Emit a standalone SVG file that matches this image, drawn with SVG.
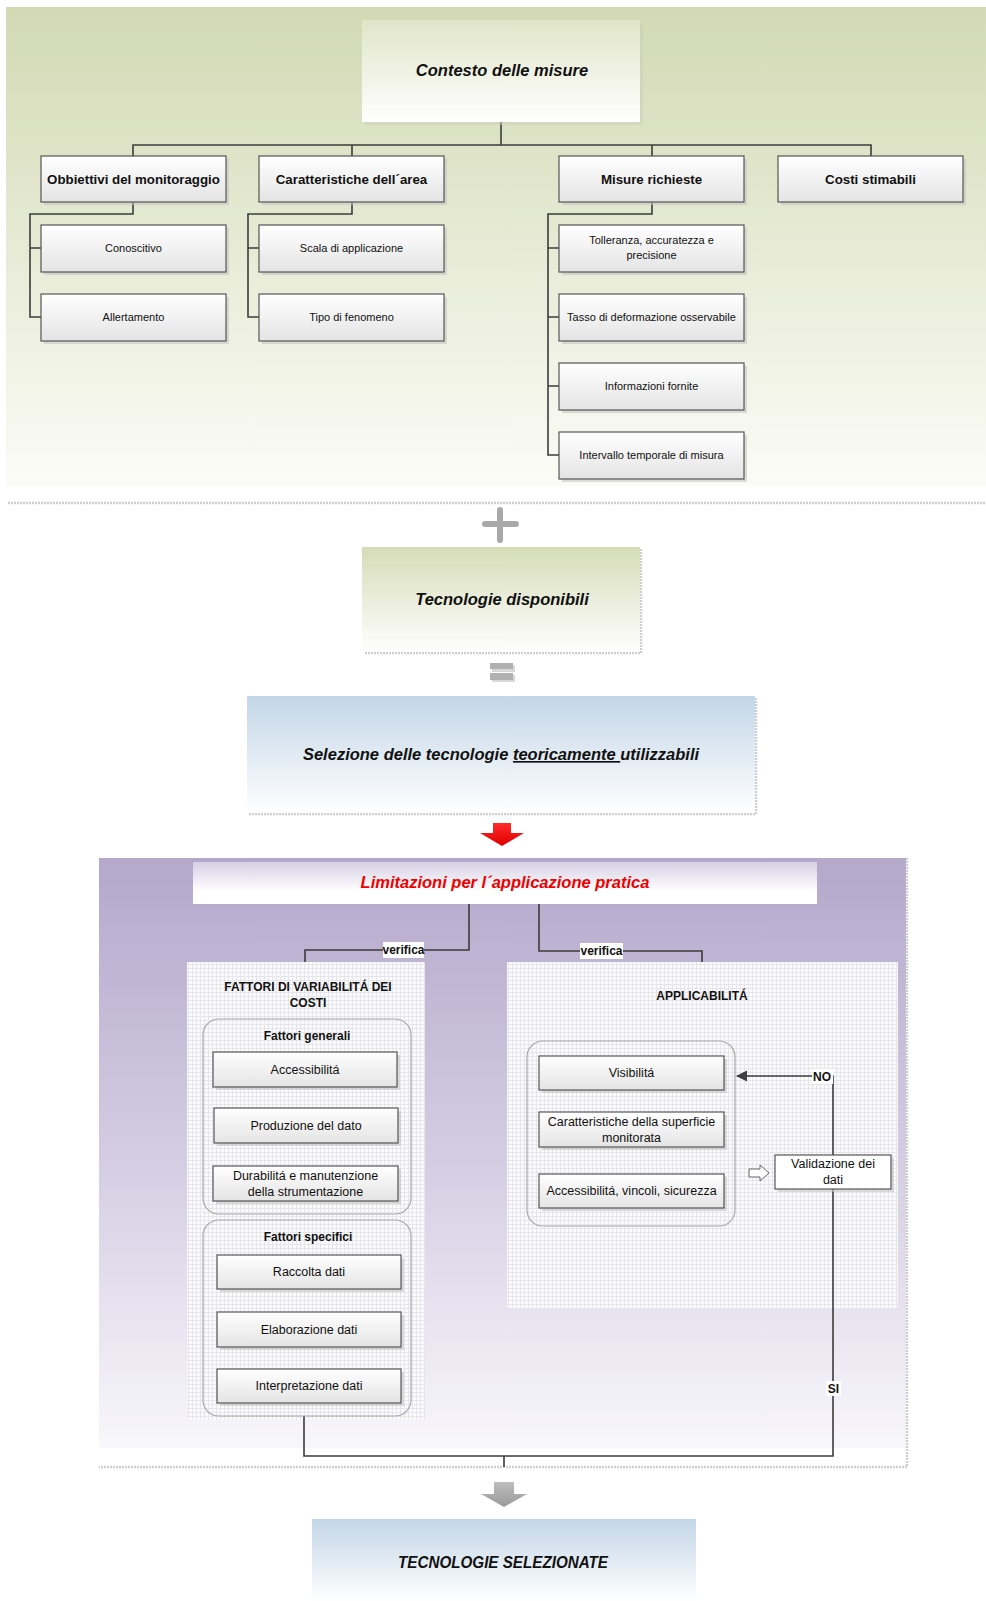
<svg xmlns="http://www.w3.org/2000/svg" width="986" height="1601" viewBox="0 0 986 1601">
<defs>
<linearGradient id="gGreen" x1="0" y1="0" x2="0" y2="1"><stop offset="0" stop-color="#d2d9b3"/><stop offset="1" stop-color="#fbfcf7"/></linearGradient>
<linearGradient id="gTop" x1="0" y1="0" x2="0" y2="1"><stop offset="0" stop-color="#e0e5c8"/><stop offset="1" stop-color="#ffffff"/></linearGradient>
<linearGradient id="gTec" x1="0" y1="0" x2="0" y2="1"><stop offset="0" stop-color="#d5dcb7"/><stop offset="1" stop-color="#ffffff"/></linearGradient>
<linearGradient id="gBlue" x1="0" y1="0" x2="0" y2="1"><stop offset="0" stop-color="#c3d6e7"/><stop offset="1" stop-color="#ffffff"/></linearGradient>
<linearGradient id="gPurple" x1="0" y1="0" x2="0" y2="1"><stop offset="0" stop-color="#b4a8cb"/><stop offset="0.5" stop-color="#d3cce2"/><stop offset="1" stop-color="#f8f7fb"/></linearGradient>
<linearGradient id="gLim" x1="0" y1="0" x2="0" y2="1"><stop offset="0" stop-color="#d6d0e4"/><stop offset="0.7" stop-color="#ffffff"/></linearGradient>
<linearGradient id="gBox" x1="0" y1="0" x2="0" y2="1"><stop offset="0" stop-color="#ffffff"/><stop offset="1" stop-color="#e4e4e4"/></linearGradient>
<linearGradient id="gRed" x1="0" y1="0" x2="0" y2="1"><stop offset="0" stop-color="#ff2a2a"/><stop offset="1" stop-color="#e00000"/></linearGradient>
<linearGradient id="gGrayA" x1="0" y1="0" x2="0" y2="1"><stop offset="0" stop-color="#bdbdbd"/><stop offset="1" stop-color="#9a9a9a"/></linearGradient>
<pattern id="grid" width="4" height="4" patternUnits="userSpaceOnUse">
<rect width="4" height="4" fill="#fbfbfd"/>
<path d="M0 0.5H4M0.5 0V4" stroke="#e6e6ea" stroke-width="1"/>
</pattern>
<marker id="arr" viewBox="0 0 10 10" refX="9" refY="5" markerWidth="7" markerHeight="7" orient="auto-start-reverse">
<path d="M0 0L10 5L0 10Z" fill="#404040"/>
</marker>
<style>
text{font-family:"Liberation Sans",Arial,sans-serif;fill:#111;text-anchor:middle}
.h1{font-size:16.5px;font-weight:bold;font-style:italic}
.l2{font-size:13.3px;font-weight:bold}
.l3{font-size:11px}
.lb{font-size:12.5px}
.tb{font-size:12px;font-weight:bold}
.box{fill:url(#gBox);stroke:#555;stroke-width:1.2}
.sh{fill:#c4c4c4;opacity:0.6}
.con{fill:none;stroke:#3c3c3c;stroke-width:1.6}
.dot{stroke:#cfcfcf;stroke-width:2.5;stroke-dasharray:2 1;fill:none}
.rnd{fill:none;stroke:#a8a8a8;stroke-width:1.2}
.lbl{fill:#ffffff}
</style>
</defs>
<rect width="986" height="1601" fill="#ffffff"/>

<g id="panel-context">
<rect x="6" y="7" width="980" height="479" fill="url(#gGreen)"/>
<line class="dot" x1="8" y1="503" x2="986" y2="503"/>
</g>

<g id="panel-limitazioni">
<rect x="99" y="858" width="807" height="590" fill="url(#gPurple)"/>
<path class="dot" d="M907 858V1467H99"/>
</g>

<g id="panel-fattori">
<rect x="187" y="962" width="238" height="458" fill="url(#grid)"/>
<text class="tb" x="308" y="991">FATTORI DI VARIABILITÁ DEI</text>
<text class="tb" x="308" y="1007">COSTI</text>
</g>
<g id="panel-applicabilita">
<rect x="507" y="962" width="391" height="346" fill="url(#grid)"/>
<text class="tb" x="702" y="1000">APPLICABILITÁ</text>
</g>

<g id="connectors">
<path class="con" d="M501 122V145M133 156V145H871V156M352 145V156M652 145V156"/>
<path class="con" d="M133 202V214H30V317H41M30 248H41"/>
<path class="con" d="M352 202V214H248V317H259M248 248H259"/>
<path class="con" d="M652 202V214H548V455H559M548 248H559M548 317H559M548 386H559"/>
<path class="con" d="M469 904V950H305V962"/>
<path class="con" d="M539 904V951H702V962"/>
<path class="con" d="M833 1155V1076H737" marker-end="url(#arr)"/>
<path class="con" d="M833 1189V1456H304V1416M504 1456V1467"/>
</g>

<g id="labels">
<rect class="lbl" x="383" y="942" width="41" height="16"/>
<text class="tb" x="403.5" y="954">verifica</text>
<rect class="lbl" x="580" y="943" width="43" height="16"/>
<text class="tb" x="601.5" y="955">verifica</text>
<rect class="lbl" x="812" y="1069" width="21" height="15"/>
<text class="tb" x="822" y="1081">NO</text>
<rect class="lbl" x="826" y="1381" width="15" height="15"/>
<text class="tb" x="833.5" y="1393">SI</text>
</g>

<g id="n-contesto">
<rect x="365" y="23" width="278" height="102" fill="#c9cdb5" opacity="0.5"/>
<rect x="362" y="20" width="278" height="102" fill="url(#gTop)"/>
<text class="h1" x="502" y="76">Contesto delle misure</text>
</g>

<g id="n-obbiettivi">
<rect class="sh" x="44" y="159" width="185" height="46"/>
<rect class="box" x="41" y="156" width="185" height="46"/>
<text class="l2" x="133.5" y="184">Obbiettivi del monitoraggio</text>
</g>
<g id="n-caratteristiche">
<rect class="sh" x="262" y="159" width="185" height="46"/>
<rect class="box" x="259" y="156" width="185" height="46"/>
<text class="l2" x="351.5" y="184">Caratteristiche dell´area</text>
</g>
<g id="n-misure">
<rect class="sh" x="562" y="159" width="185" height="46"/>
<rect class="box" x="559" y="156" width="185" height="46"/>
<text class="l2" x="651.5" y="184">Misure richieste</text>
</g>
<g id="n-costi">
<rect class="sh" x="781" y="159" width="185" height="46"/>
<rect class="box" x="778" y="156" width="185" height="46"/>
<text class="l2" x="870.5" y="184">Costi stimabili</text>
</g>

<g id="n-conoscitivo">
<rect class="sh" x="44" y="228" width="185" height="47"/>
<rect class="box" x="41" y="225" width="185" height="47"/>
<text class="l3" x="133.5" y="252">Conoscitivo</text>
</g>
<g id="n-allertamento">
<rect class="sh" x="44" y="297" width="185" height="47"/>
<rect class="box" x="41" y="294" width="185" height="47"/>
<text class="l3" x="133.5" y="321">Allertamento</text>
</g>
<g id="n-scala">
<rect class="sh" x="262" y="228" width="185" height="47"/>
<rect class="box" x="259" y="225" width="185" height="47"/>
<text class="l3" x="351.5" y="252">Scala di applicazione</text>
</g>
<g id="n-tipo">
<rect class="sh" x="262" y="297" width="185" height="47"/>
<rect class="box" x="259" y="294" width="185" height="47"/>
<text class="l3" x="351.5" y="321">Tipo di fenomeno</text>
</g>
<g id="n-tolleranza">
<rect class="sh" x="562" y="228" width="185" height="47"/>
<rect class="box" x="559" y="225" width="185" height="47"/>
<text class="l3" x="651.5" y="244">Tolleranza, accuratezza e</text>
<text class="l3" x="651.5" y="259">precisione</text>
</g>
<g id="n-tasso">
<rect class="sh" x="562" y="297" width="185" height="47"/>
<rect class="box" x="559" y="294" width="185" height="47"/>
<text class="l3" x="651.5" y="321">Tasso di deformazione osservabile</text>
</g>
<g id="n-informazioni">
<rect class="sh" x="562" y="366" width="185" height="47"/>
<rect class="box" x="559" y="363" width="185" height="47"/>
<text class="l3" x="651.5" y="390">Informazioni fornite</text>
</g>
<g id="n-intervallo">
<rect class="sh" x="562" y="435" width="185" height="47"/>
<rect class="box" x="559" y="432" width="185" height="47"/>
<text class="l3" x="651.5" y="459">Intervallo temporale di misura</text>
</g>

<g id="plus">
<path d="M485 524H516M500 510V540" stroke="#a9a9a9" stroke-width="6" stroke-linecap="round"/>
</g>

<g id="n-tecnologie">
<path class="dot" d="M641 549V653H364"/>
<rect x="362" y="547" width="278" height="105" fill="url(#gTec)"/>
<text class="h1" x="502" y="605">Tecnologie disponibili</text>
</g>

<g id="equals">
<rect x="492" y="665" width="23" height="7" fill="#d8d8d8"/>
<rect x="492" y="675" width="23" height="7" fill="#d8d8d8"/>
<rect x="490" y="663" width="23" height="6" fill="#b0b0b0"/>
<rect x="490" y="673" width="23" height="7" fill="#b0b0b0"/>
</g>

<g id="n-selezione">
<path class="dot" d="M756 698V814H249"/>
<rect x="247" y="696" width="508" height="117" fill="url(#gBlue)"/>
<text class="h1" x="501" y="760">Selezione delle tecnologie <tspan text-decoration="underline">teoricamente </tspan>utilizzabili</text>
</g>

<g id="red-arrow">
<path d="M493 823H511V833H524L502 846L480 833H493Z" fill="url(#gRed)"/>
</g>

<g id="n-limitazioni">
<rect x="193" y="862" width="624" height="42" fill="url(#gLim)"/>
<text class="h1" x="505" y="888" style="fill:#ee0000">Limitazioni per l´applicazione pratica</text>
</g>

<g id="g-generali">
<rect class="rnd" x="203" y="1019" width="208" height="195" rx="16"/>
<text class="tb" x="307" y="1040">Fattori generali</text>
</g>
<g id="n-accessibilita">
<rect class="sh" x="216" y="1055" width="184" height="35"/>
<rect class="box" x="213" y="1052" width="184" height="35"/>
<text class="lb" x="305" y="1074">Accessibilitá</text>
</g>
<g id="n-produzione">
<rect class="sh" x="217" y="1111" width="184" height="35"/>
<rect class="box" x="214" y="1108" width="184" height="35"/>
<text class="lb" x="306" y="1130">Produzione del dato</text>
</g>
<g id="n-durabilita">
<rect class="sh" x="216" y="1169" width="185" height="35"/>
<rect class="box" x="213" y="1166" width="185" height="35"/>
<text class="lb" x="305.5" y="1180">Durabilitá e manutenzione</text>
<text class="lb" x="305.5" y="1196">della strumentazione</text>
</g>

<g id="g-specifici">
<rect class="rnd" x="203" y="1220" width="208" height="196" rx="16"/>
<text class="tb" x="308" y="1241">Fattori specifici</text>
</g>
<g id="n-raccolta">
<rect class="sh" x="220" y="1258" width="184" height="34"/>
<rect class="box" x="217" y="1255" width="184" height="34"/>
<text class="lb" x="309" y="1276">Raccolta dati</text>
</g>
<g id="n-elaborazione">
<rect class="sh" x="220" y="1315" width="184" height="35"/>
<rect class="box" x="217" y="1312" width="184" height="35"/>
<text class="lb" x="309" y="1334">Elaborazione dati</text>
</g>
<g id="n-interpretazione">
<rect class="sh" x="220" y="1372" width="184" height="34"/>
<rect class="box" x="217" y="1369" width="184" height="34"/>
<text class="lb" x="309" y="1390">Interpretazione dati</text>
</g>

<g id="g-applicabilita">
<rect class="rnd" x="527" y="1041" width="208" height="185" rx="16"/>
</g>
<g id="n-visibilita">
<rect class="sh" x="542" y="1059" width="185" height="34"/>
<rect class="box" x="539" y="1056" width="185" height="34"/>
<text class="lb" x="631.5" y="1077">Visibilitá</text>
</g>
<g id="n-superficie">
<rect class="sh" x="542" y="1115" width="185" height="35"/>
<rect class="box" x="539" y="1112" width="185" height="35"/>
<text class="lb" x="631.5" y="1126">Caratteristiche della superficie</text>
<text class="lb" x="631.5" y="1142">monitorata</text>
</g>
<g id="n-vincoli">
<rect class="sh" x="542" y="1177" width="185" height="34"/>
<rect class="box" x="539" y="1174" width="185" height="34"/>
<text class="lb" x="631.5" y="1195">Accessibilitá, vincoli, sicurezza</text>
</g>

<g id="hollow-arrow">
<path d="M749 1169H760V1165L769 1173L760 1181V1177H749Z" fill="#ffffff" stroke="#666" stroke-width="1"/>
</g>

<g id="n-validazione">
<rect class="sh" x="778" y="1158" width="116" height="34"/>
<rect x="775" y="1155" width="116" height="34" fill="#ffffff" stroke="#555" stroke-width="1.2"/>
<text class="lb" x="833" y="1168">Validazione dei</text>
<text class="lb" x="833" y="1184">dati</text>
</g>

<g id="gray-arrow">
<path d="M494 1482H514V1494H527L504 1507L481 1494H494Z" fill="url(#gGrayA)"/>
</g>

<g id="n-selezionate">
<rect x="312" y="1519" width="384" height="82" fill="url(#gBlue)"/>
<text class="h1" x="503" y="1568" textLength="210" lengthAdjust="spacingAndGlyphs">TECNOLOGIE SELEZIONATE</text>
</g>
</svg>
